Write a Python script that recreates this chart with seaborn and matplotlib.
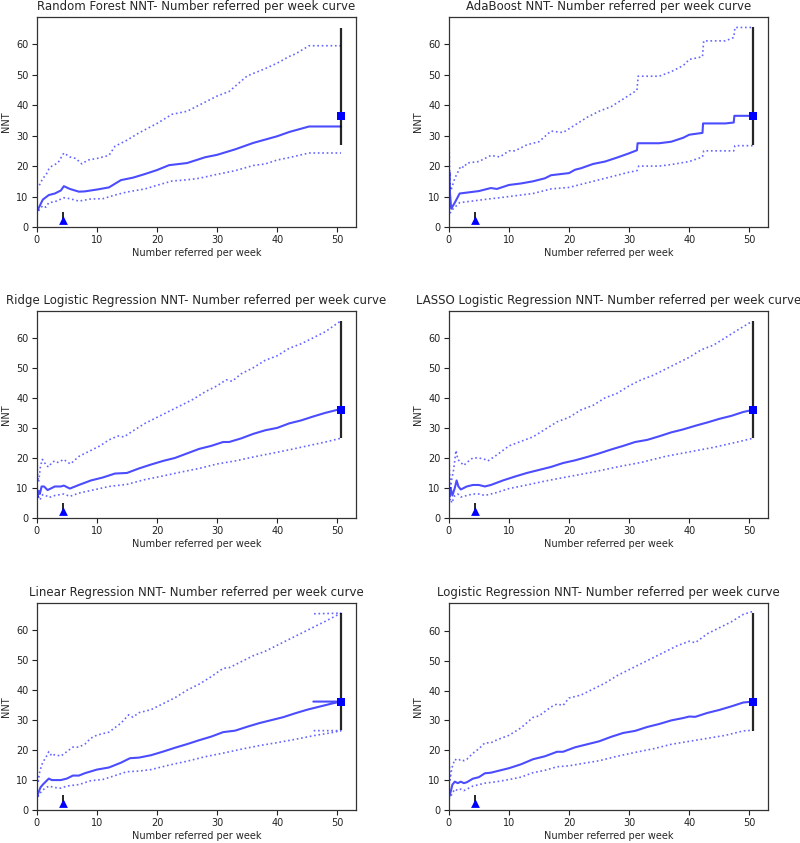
import matplotlib
matplotlib.use("Agg")
import matplotlib.pyplot as plt
import seaborn as sns
import pandas as pd

# ---------------- data ----------------
titles = ["Random Forest", "AdaBoost", "Ridge Logistic Regression",
          "LASSO Logistic Regression", "Linear Regression", "Logistic Regression"]

# Random Forest
rf_mid_x = [0, 0.5, 1, 2, 3, 4, 4.5, 5.5, 7, 8, 10, 12, 14, 16, 18, 20, 22, 25, 28, 30, 33, 36, 38, 40, 42, 45.3, 50.6]
rf_mid_y = [5, 7, 9, 10.5, 11, 12, 13.4, 12.5, 11.6, 11.7, 12.3, 13, 15.4, 16.2, 17.4, 18.7, 20.3, 21, 22.9, 23.7, 25.5, 27.6, 28.7, 29.8, 31.2, 33, 33]
rf_hi_x = [0, 0.5, 1, 1.5, 2, 2.5, 3.5, 4.5, 5.5, 6.5, 7.5, 8.5, 10, 12, 13, 15, 17, 20, 22.5, 25, 27, 30, 32, 35, 38, 40, 42, 43, 45.3, 50.6]
rf_hi_y = [12.5, 14, 16, 17, 19, 20, 21, 24.3, 23, 22.5, 20.7, 22, 22.5, 23.5, 26.5, 28.5, 30.9, 34, 37, 38, 40, 43, 44.5, 49.6, 52, 53.8, 56, 56.8, 59.5, 59.5]
rf_lo_x = [0, 0.5, 1, 1.5, 2, 3, 4.5, 5.5, 7, 9, 11, 13, 15, 18, 20, 22.5, 25, 27, 30, 33, 36, 38, 40, 42, 45.3, 50.6]
rf_lo_y = [4, 6, 7, 6.5, 8, 8.3, 9.6, 9.3, 8.5, 9.2, 9.3, 10.5, 11.5, 12.5, 13.7, 15.1, 15.5, 16, 17.3, 18.5, 20.2, 20.7, 22, 22.8, 24.3, 24.3]

# AdaBoost
ab_mid_x = [0, 0.1, 0.2, 0.4, 1, 1.8, 3, 5, 7, 8, 10, 12, 14, 16, 17, 20, 21, 22, 24, 26, 28, 30, 31.3, 31.4, 35, 37, 39, 40, 42.2, 42.3, 46, 47.4, 47.5, 50.6]
ab_mid_y = [14, 18, 11, 6, 8, 11, 11.3, 11.8, 12.8, 12.5, 13.8, 14.3, 15, 16, 17, 17.7, 18.8, 19.3, 20.7, 21.5, 22.8, 24.2, 25.2, 27.5, 27.5, 28, 29.3, 30.3, 30.9, 34, 34, 34.3, 36.5, 36.5]
ab_hi_x = [0, 0.05, 0.1, 0.2, 0.35, 1, 2, 2.5, 3, 5, 7, 8.5, 10, 11, 13, 15, 17, 19, 21, 23, 25, 27, 29, 31.3, 31.5, 35, 37, 39, 40, 42.2, 42.4, 46, 47.4, 47.6, 50.6]
ab_hi_y = [42, 30, 22, 14, 12, 16, 20, 19.5, 21, 21.5, 23.5, 23, 25, 25, 27, 28, 31.5, 31, 33.5, 36, 38, 39.5, 42, 44.9, 49.5, 49.5, 51, 53, 55, 55.9, 61.1, 61.1, 62.2, 65.5, 65.5]
ab_lo_x = [0.2, 0.5, 1, 1.8, 3, 5, 7, 8, 10, 12, 14, 17, 20, 22, 24, 26, 28, 30, 31.3, 31.6, 35, 37, 40, 42.2, 42.4, 47.4, 47.6, 50.6]
ab_lo_y = [4.5, 5.5, 6.5, 8, 8.3, 8.8, 9.3, 9.5, 10, 10.5, 11, 12.5, 13, 14, 15, 16, 17, 18, 18.5, 20, 20, 20.5, 21.5, 23, 25, 25, 26.7, 26.7]

# Ridge Logistic Regression
rd_mid_x = [0, 0.1, 0.3, 0.5, 0.8, 1.2, 1.8, 2.5, 3, 4, 4.5, 5.5, 7, 9, 11, 13, 15, 17, 19, 21, 23, 25, 27, 29, 31, 32, 34, 36, 38, 40, 42, 44, 46, 48, 50.6]
rd_mid_y = [12, 7, 9, 8, 10.5, 10.5, 9.3, 10, 10.5, 10.5, 10.8, 9.8, 11, 12.5, 13.5, 14.8, 15, 16.5, 17.8, 19, 20, 21.5, 23, 24, 25.3, 25.3, 26.5, 28, 29.2, 30, 31.5, 32.5, 33.8, 35, 36.3]
rd_hi_x = [0, 0.05, 0.1, 0.3, 0.6, 0.9, 1.2, 1.5, 2, 2.5, 3, 3.5, 4.5, 5, 5.6, 7, 9, 10.5, 12, 13.5, 14.5, 16, 18, 20, 22, 24, 26, 28, 30, 31.5, 32.5, 34, 36, 38, 40, 42, 44, 46, 48, 50.5]
rd_hi_y = [28, 20, 15, 12, 17, 19.5, 19, 17.5, 17, 18.5, 19, 18.5, 19.5, 18.7, 18, 20.5, 22.5, 24, 26, 27.3, 27, 29, 31.5, 33.5, 35.5, 37.5, 39.5, 42, 44, 46, 45.5, 48, 50, 52.5, 54, 56.5, 58, 60, 62, 65.5]
rd_lo_x = [0, 0.1, 0.3, 0.5, 1, 1.5, 2, 3, 4.5, 5.5, 7, 10, 12, 15, 18, 21, 24, 27, 30, 33, 36, 39, 42, 45, 48, 50.5]
rd_lo_y = [9, 6.5, 7, 6, 7.8, 7.5, 6.8, 7.5, 8, 7.2, 8.3, 9.6, 10.5, 11.2, 12.8, 14, 15.3, 16.5, 18, 19, 20.3, 21.5, 22.7, 24, 25.3, 26.5]

# LASSO Logistic Regression
ls_mid_x = [0, 0.1, 0.3, 0.6, 1, 1.3, 1.6, 2, 2.5, 3, 4, 5, 6, 7, 9, 11, 13, 15, 17, 19, 21, 23, 25, 27, 29, 31, 33, 35, 37, 39, 41, 43, 45, 47, 49, 50.6]
ls_mid_y = [13, 7, 10, 7.5, 10, 12.5, 10.5, 9.5, 10, 10.5, 11, 11, 10.5, 11, 12.5, 13.8, 15, 16, 17, 18.3, 19.2, 20.3, 21.5, 22.8, 24, 25.3, 26, 27.2, 28.5, 29.5, 30.7, 31.8, 33, 34, 35.3, 36]
ls_hi_x = [0, 0.1, 0.3, 0.5, 0.8, 1.2, 1.5, 2, 2.5, 3, 4, 5, 6, 6.5, 8, 10, 12, 14, 16, 18, 20, 22, 24, 26, 28, 30, 32, 34, 36, 38, 40, 42, 44, 46, 48, 50.5]
ls_hi_y = [23.5, 16, 10, 13, 16, 22.5, 19.5, 18.5, 17.5, 18.5, 20, 20, 19.5, 19, 21, 24, 25.5, 27, 29.5, 32, 33.5, 36, 37.5, 40, 41.5, 44, 46, 47.5, 49.5, 51.5, 53.5, 56, 57.5, 60, 62.5, 65.5]
ls_lo_x = [0, 0.1, 0.3, 0.5, 1, 1.5, 2, 3, 4, 5, 6, 8, 10, 13, 16, 20, 24, 28, 32, 36, 40, 44, 48, 50.5]
ls_lo_y = [8, 5.5, 6.5, 5, 7.5, 8, 7, 7.5, 8, 8, 7.5, 8.5, 9.8, 11, 12.3, 13.8, 15.3, 17, 18.5, 20.5, 22, 23.5, 25.3, 26.5]

# Linear Regression
lr_mid_x = [0, 0.3, 0.6, 1, 1.5, 2, 2.5, 3, 4, 5, 6, 7, 8, 10, 12, 14, 15.5, 17, 19, 21, 23, 25, 27, 29, 31, 33, 35, 37, 39, 41, 43, 45, 47, 49, 50.6, 46]
lr_mid_y = [4, 6, 7.5, 8.5, 9.5, 10.5, 10, 10, 10, 10.5, 11.5, 11.5, 12.3, 13.5, 14.2, 15.8, 17.3, 17.5, 18.3, 19.5, 20.8, 22, 23.3, 24.5, 26, 26.5, 27.8, 29, 30, 31, 32.3, 33.5, 34.5, 35.5, 36.2, 36.2]
lr_hi_x = [0, 0.2, 0.5, 1, 1.5, 2, 2.5, 3, 4, 5, 6, 7, 8, 9, 10, 12, 14, 15.3, 16, 17, 19, 21, 23, 25, 27, 29, 31, 32, 34, 36, 38, 40, 42, 44, 46, 48, 50.6, 46]
lr_hi_y = [13, 9, 13, 16, 17.5, 19.5, 18, 18.5, 18, 19.5, 21, 21, 22, 24, 25, 26, 29, 31.8, 31, 32.5, 33.5, 35.5, 37.5, 40, 42, 44.5, 47.3, 47.5, 49.5, 51.5, 53, 55, 57, 59, 61, 63, 65.7, 65.5]
lr_lo_x = [0, 0.3, 0.7, 1.2, 2, 3, 4, 5, 7, 9, 11, 13, 15, 17, 19, 22, 25, 28, 31, 34, 37, 40, 43, 46, 49, 50.6, 46]
lr_lo_y = [3, 5, 6, 7, 8, 7.5, 7.3, 8, 8.5, 9.8, 10.2, 11.5, 12.8, 13, 13.5, 15, 16.3, 17.8, 19, 20.3, 21.5, 22.5, 23.6, 24.8, 25.8, 26.5, 26.5]

# Logistic Regression
lg_mid_x = [0, 0.3, 0.6, 1, 1.5, 2, 2.5, 3, 4, 5, 6, 7, 8, 10, 12, 14, 16, 18, 19, 21, 23, 25, 27, 29, 31, 33, 35, 37, 39, 40, 41, 43, 45, 47, 49, 50.6]
lg_mid_y = [4, 6, 8.5, 9.5, 9, 9.5, 9, 9.3, 10.5, 11, 12.3, 12.5, 13, 14, 15.3, 17, 18, 19.5, 19.5, 21, 22, 23, 24.5, 25.8, 26.5, 27.8, 28.8, 30, 30.8, 31.3, 31.2, 32.5, 33.5, 34.7, 36, 36.3]
lg_hi_x = [0, 0.2, 0.5, 1, 1.5, 2, 2.5, 3, 4, 5, 6, 7, 8, 10, 12, 14, 15, 17, 18, 19, 20, 22, 24, 26, 28, 30, 32, 34, 36, 38, 40, 41, 43, 45, 47, 49, 50.6]
lg_hi_y = [19, 10, 14, 17, 16.5, 17, 16.5, 17, 19, 20.5, 22.5, 22.5, 23.5, 25, 27.5, 31, 31.5, 34.5, 35.5, 35, 37.5, 38.5, 40.5, 42.5, 45, 47, 49, 51, 53, 55, 56.5, 56, 59, 61, 63, 65.5, 66.5]
lg_lo_x = [0, 0.3, 0.7, 1, 1.5, 2, 2.5, 3, 4, 5, 6, 8, 10, 12, 14, 16, 18, 20, 22, 25, 28, 31, 34, 37, 40, 43, 46, 49, 50.6]
lg_lo_y = [3.5, 4.5, 6, 7, 6.5, 7, 6.5, 7, 8, 8.5, 9, 9.5, 10.2, 11, 12.5, 13.3, 14.5, 14.8, 15.5, 16.5, 18, 19.3, 20.5, 22, 23, 24, 25, 26.5, 26.7]

# end-point interval (square marker and black bar) and triangle marker
end_x = [50.6, 50.6, 50.6, 50.6, 50.6, 50.6]
end_y = [36.3, 36.5, 36.0, 36.0, 36.1, 36.2]
end_lo = [26.8, 26.8, 26.6, 26.6, 26.6, 26.6]
end_hi = [65.4, 65.5, 65.5, 65.7, 65.8, 65.9]
tri_x = [4.4, 4.4, 4.4, 4.4, 4.4, 4.4]
tri_y = [2.3, 2.3, 2.3, 2.3, 2.3, 2.3]
tri_top = [5.0, 5.0, 5.0, 5.0, 5.0, 5.0]
ylim_top = [68.9, 68.9, 68.9, 68.9, 69.1, 69.3]

series = [
    (rf_mid_x, rf_mid_y, rf_hi_x, rf_hi_y, rf_lo_x, rf_lo_y),
    (ab_mid_x, ab_mid_y, ab_hi_x, ab_hi_y, ab_lo_x, ab_lo_y),
    (rd_mid_x, rd_mid_y, rd_hi_x, rd_hi_y, rd_lo_x, rd_lo_y),
    (ls_mid_x, ls_mid_y, ls_hi_x, ls_hi_y, ls_lo_x, ls_lo_y),
    (lr_mid_x, lr_mid_y, lr_hi_x, lr_hi_y, lr_lo_x, lr_lo_y),
    (lg_mid_x, lg_mid_y, lg_hi_x, lg_hi_y, lg_lo_x, lg_lo_y),
]

# ---------------- plotting ----------------
sns.set_style("ticks")
plt.rcParams["font.family"] = ["DejaVu Sans"]

fig = plt.figure(figsize=(8.0, 8.43), dpi=100)
lefts = [0.046, 0.561]
bottoms = [0.7307, 0.3855, 0.0391]
heights = [0.249, 0.2456, 0.2456]

for i, (title, s) in enumerate(zip(titles, series)):
    r, c = divmod(i, 2)
    ax = fig.add_axes([lefts[c], bottoms[r], 0.399, heights[r]])
    mx, my, hx, hy, lx, ly = s
    sns.lineplot(x=mx, y=my, ax=ax, sort=False, estimator=None, color="b",
                 alpha=0.7, linewidth=1.5)
    sns.lineplot(x=hx, y=hy, ax=ax, sort=False, estimator=None, color="b",
                 alpha=0.6, linewidth=1.2, linestyle=":")
    sns.lineplot(x=lx, y=ly, ax=ax, sort=False, estimator=None, color="b",
                 alpha=0.6, linewidth=1.2, linestyle=":")
    ax.vlines(end_x[i], end_lo[i], end_hi[i], color="k", alpha=0.85, linewidth=1.6, zorder=3)
    ax.vlines(tri_x[i], tri_y[i], tri_top[i], color="k", alpha=0.85, linewidth=1.4, zorder=3)
    sns.scatterplot(x=[end_x[i]], y=[end_y[i]], ax=ax, marker="s", color="b",
                    s=40, linewidth=0, zorder=4)
    sns.scatterplot(x=[tri_x[i]], y=[tri_y[i]], ax=ax, marker="^", color="b",
                    s=40, linewidth=0, zorder=4)
    ax.set_xlim(0, 53.1)
    ax.set_ylim(0, ylim_top[i])
    ax.set_xticks([0, 10, 20, 30, 40, 50])
    ax.set_yticks([0, 10, 20, 30, 40, 50, 60])
    ax.tick_params(labelsize=7, length=3.5, width=0.8, colors="#222222", pad=2.5)
    for sp in ax.spines.values():
        sp.set_color("#333333")
        sp.set_linewidth(0.9)
    ax.set_title(title + " NNT- Number referred per week curve", fontsize=8.5, pad=5)
    ax.set_xlabel("Number referred per week", fontsize=7, labelpad=2)
    ax.set_ylabel("NNT", fontsize=7, labelpad=4)

fig.savefig("out.png", dpi=100)
